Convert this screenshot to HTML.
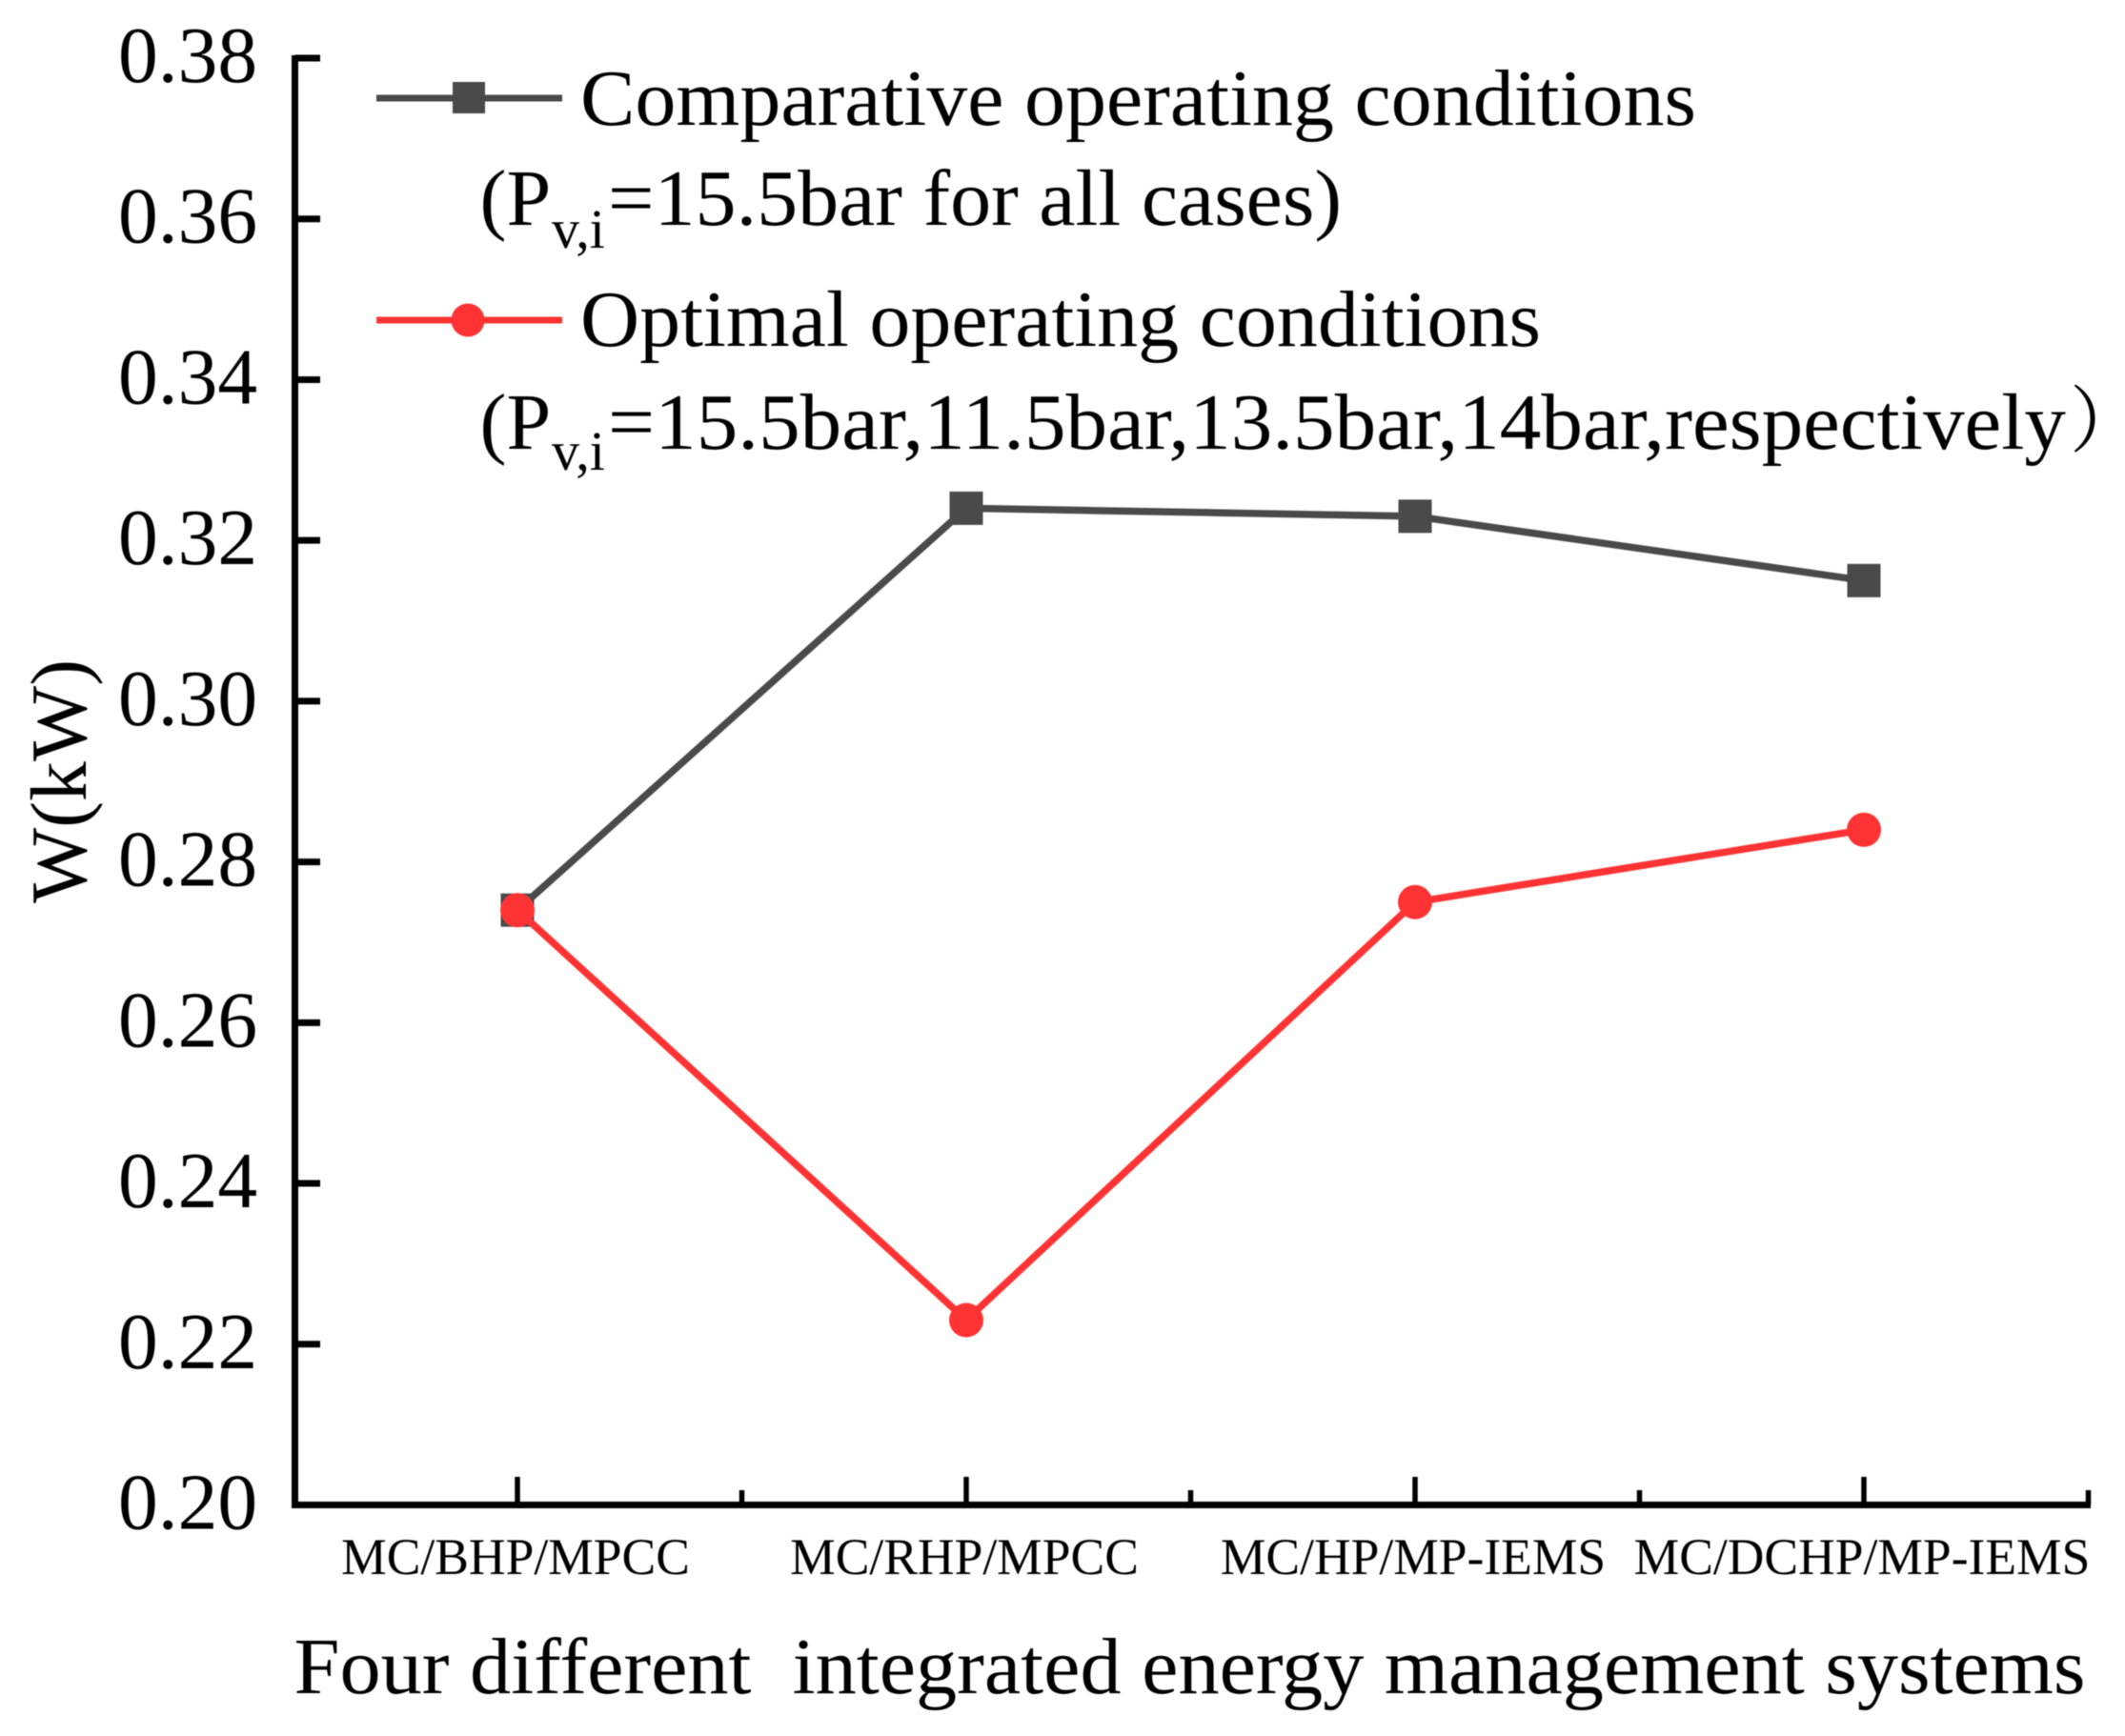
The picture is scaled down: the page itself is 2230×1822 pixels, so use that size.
<!DOCTYPE html>
<html lang="en">
<head>
<meta charset="utf-8">
<title>W(kW) across four integrated energy management systems</title>
<style>
html,body{margin:0;padding:0;background:#fff;width:2230px;height:1822px;overflow:hidden}
svg{display:block;filter:blur(0.6px)}
text{font-family:"Liberation Serif","Noto Serif CJK SC",serif;fill:#000}
</style>
</head>
<body>
<svg id="chart" xmlns="http://www.w3.org/2000/svg" width="2230" height="1822" viewBox="0 0 2230 1822">
  <rect x="0" y="0" width="2230" height="1822" fill="#ffffff"/>
  <g id="axes"></g>
  <g id="series"></g>
  <g id="labels"></g>

  <text transform="translate(90,948) rotate(-90)" font-size="84" textLength="256" lengthAdjust="spacingAndGlyphs">W(kW)</text>
  <text x="308.5" y="1777" font-size="84" textLength="1880" lengthAdjust="spacingAndGlyphs" xml:space="preserve">Four different  integrated energy management systems</text>

  <g>
    <g>
      <line x1="395" y1="103" x2="590" y2="103" stroke="#4a4a4a" stroke-width="7"/>
      <rect x="475" y="86" width="34" height="33" fill="#4a4a4a"/>
      <text x="609" y="131" font-size="84" textLength="1171" lengthAdjust="spacingAndGlyphs">Comparative operating conditions</text>
      <text x="503.5" y="236" font-size="84">(P</text>
      <text x="579" y="260" font-size="58">v,i</text>
      <text x="638" y="236" font-size="84" textLength="770" lengthAdjust="spacingAndGlyphs">=15.5bar for all cases)</text>
    </g>
    <g>
      <line x1="395" y1="336" x2="590" y2="336" stroke="#ff3333" stroke-width="7"/>
      <circle cx="491" cy="336" r="17.5" fill="#ff3333"/>
      <text x="609" y="363" font-size="84" textLength="1008" lengthAdjust="spacingAndGlyphs">Optimal operating conditions</text>
      <text x="503.5" y="471" font-size="84">(P</text>
      <text x="579" y="493" font-size="58">v,i</text>
      <text x="638" y="471" font-size="84" textLength="1530" lengthAdjust="spacingAndGlyphs">=15.5bar,11.5bar,13.5bar,14bar,respectively</text>
      <text x="2172" y="468" font-size="76">）</text>
    </g>
  </g>
</svg>
<script>
const categories = ['MC/BHP/MPCC', 'MC/RHP/MPCC', 'MC/HP/MP-IEMS', 'MC/DCHP/MP-IEMS'];
const comparativeValues = [0.274, 0.324, 0.323, 0.315];
const optimalValues = [0.274, 0.223, 0.275, 0.284];
const yTickValues = [0.20, 0.22, 0.24, 0.26, 0.28, 0.30, 0.32, 0.34, 0.36, 0.38];

const NS = 'http://www.w3.org/2000/svg';
const yMin = 0.20, yMax = 0.38, yBottom = 1579.5, yTop = 61;
const xLeft = 309.5, xOrigin = 307.5, xStep = 471;
function xScale(position) { return xOrigin + (position + 0.5) * xStep; }
function yScale(value) { return yBottom - (value - yMin) / (yMax - yMin) * (yBottom - yTop); }
function make(tag, attrs, parent) {
  const node = document.createElementNS(NS, tag);
  for (const key in attrs) node.setAttribute(key, attrs[key]);
  parent.appendChild(node);
  return node;
}

const axes = document.getElementById('axes');
const series = document.getElementById('series');
const labels = document.getElementById('labels');

const yAxisLine = make('line', {x1: xLeft, y1: yTop - 3, x2: xLeft, y2: yBottom, stroke: '#000', 'stroke-width': 7}, axes);


const xAxisLine = make('line', {x1: xLeft - 3.5, y1: yBottom, x2: xScale(categories.length - 0.5) + 2.5, y2: yBottom, stroke: '#000', 'stroke-width': 7}, axes);



yTickValues.forEach(function (value) {
  const y = yScale(value);
  const tick = make('line', {x1: xLeft, y1: y, x2: 336, y2: y, stroke: '#000', 'stroke-width': 7}, axes);
  
  
  const label = make('text', {x: 124, y: y + 25, 'font-size': 83.5}, labels);
  
  
  label.textContent = value.toFixed(2);
});

categories.forEach(function (name, i) {
  const x = xScale(i);
  const major = make('line', {x1: x, y1: 1550, x2: x, y2: yBottom, stroke: '#000', 'stroke-width': 5.5}, axes);
  
  
  const minorX = xScale(i + 0.5);
  const minor = make('line', {x1: minorX, y1: 1564, x2: minorX, y2: yBottom, stroke: '#000', 'stroke-width': 5.5}, axes);
  
  
  const label = make('text', {x: x - 2, y: 1652, 'font-size': 53.5, 'text-anchor': 'middle'}, labels);
  
  
  label.textContent = name;
});

function pointsOf(values) {
  return values.map(function (v, i) { return xScale(i) + ',' + yScale(v); }).join(' ');
}

const comparativeLine = make('polyline', {points: pointsOf(comparativeValues), fill: 'none', stroke: '#4a4a4a', 'stroke-width': 7.5}, series);


comparativeValues.forEach(function (v, i) {
  const size = 35;
  const marker = make('rect', {x: xScale(i) - size / 2, y: yScale(v) - size / 2, width: size, height: size, fill: '#4a4a4a'}, series);
  
  
});

const optimalLine = make('polyline', {points: pointsOf(optimalValues), fill: 'none', stroke: '#ff3333', 'stroke-width': 7.5}, series);


optimalValues.forEach(function (v, i) {
  const marker = make('circle', {cx: xScale(i), cy: yScale(v), r: 18, fill: '#ff3333'}, series);
  
  
});
</script>
</body>
</html>
